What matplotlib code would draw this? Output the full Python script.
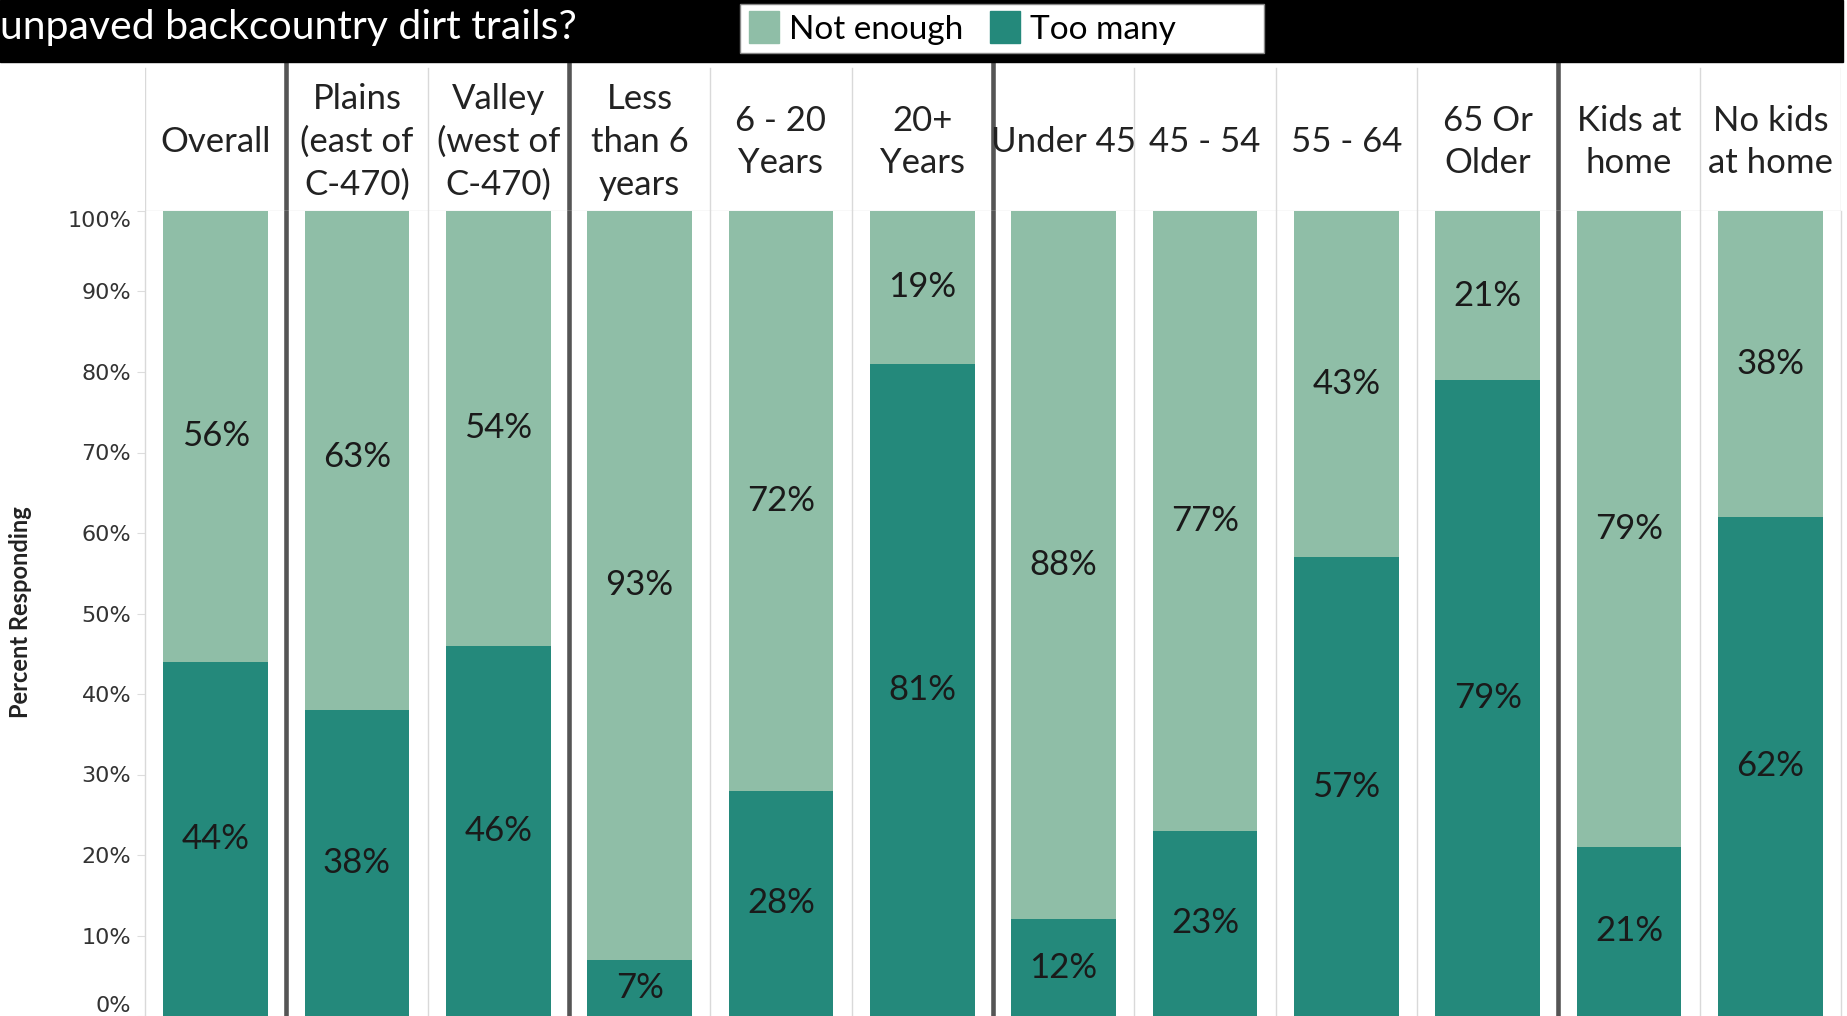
import matplotlib
matplotlib.use("Agg")
import matplotlib.pyplot as plt
from matplotlib.patches import Rectangle, Patch

# Data
categories = ["Overall", "Plains\n(east of\nC-470)", "Valley\n(west of\nC-470)",
              "Less\nthan 6\nyears", "6 - 20\nYears", "20+\nYears",
              "Under 45", "45 - 54", "55 - 64", "65 Or\nOlder",
              "Kids at\nhome", "No kids\nat home"]
too_many = [44, 38, 46, 7, 28, 81, 12, 23, 57, 79, 21, 62]
not_enough = [56, 63, 54, 93, 72, 19, 88, 77, 43, 21, 79, 38]
group_breaks = [0.5, 2.5, 5.5, 9.5]
yticks = [0, 10, 20, 30, 40, 50, 60, 70, 80, 90, 100]

LIGHT = "#8fbea7"
DARK = "#24897b"
FONT = "Lato"

W, H = 1847, 1016
fig = plt.figure(figsize=(W / 100, H / 100), dpi=100)
plt.rcParams["font.family"] = [FONT, "DejaVu Sans"]

left_px, right_px = 145, 1841
top_px = 211
ax = fig.add_axes([left_px / W, 0, (right_px - left_px) / W, (H - top_px) / H])
x = list(range(len(categories)))
ax.bar(x, too_many, width=0.74, color=DARK)
ax.bar(x, not_enough, width=0.74, bottom=too_many, color=LIGHT)
ax.set_xlim(-0.5, len(categories) - 0.5)
ax.set_ylim(0.6, 100)

# segment labels
for i in x:
    ax.text(i, too_many[i] / 2, f"{too_many[i]}%", ha="center", va="center",
            fontsize=25, color="#1a1a1a")
    ax.text(i, too_many[i] + not_enough[i] / 2, f"{not_enough[i]}%", ha="center",
            va="center", fontsize=25, color="#1a1a1a")

ax.set_xticks([])
ax.set_yticks(yticks)
ax.set_yticklabels([f"{t}%" for t in yticks], fontsize=16, color="#333333",
                   family="DejaVu Sans")
ax.tick_params(axis="y", length=6, color="#dddddd", pad=4)
labels = ax.get_yticklabels()
labels[0].set_va("bottom")
labels[-1].set_va("top")
for s in ax.spines.values():
    s.set_visible(False)

# column separators
for b in range(len(categories) + 1):
    ax.axvline(b - 0.5, color="#d9d9d9", lw=1, clip_on=False)
for b in group_breaks:
    ax.axvline(b, color="#555555", lw=3.3, zorder=5)

# header row
hax = fig.add_axes([left_px / W, (H - top_px) / H, (right_px - left_px) / W, (top_px - 61) / H])
hax.set_xlim(-0.5, len(categories) - 0.5)
hax.set_ylim(0, 1)
hax.axis("off")
for i, c in enumerate(categories):
    hax.text(i, 0.46, c, ha="center", va="center", fontsize=25, color="#222222",
             linespacing=1.42)
for b in range(len(categories) + 1):
    hax.plot([b - 0.5, b - 0.5], [0, (top_px - 68) / (top_px - 61)], color="#d9d9d9", lw=1)
for b in group_breaks:
    hax.plot([b, b], [0, 1], color="#555555", lw=3.3)
hax.plot([-0.5, len(categories) - 0.5], [0, 0], color="#e0e0e0", lw=1)

# black title bar
fig.patches.append(Rectangle((0, (H - 62) / H), 1843 / W, 62 / H, transform=fig.transFigure,
                             color="black", zorder=0))
fig.text(0, (H - 27) / H, "unpaved backcountry dirt trails?", color="white", fontsize=29.5,
         ha="left", va="center")

# legend
fig.patches.append(Rectangle((740 / W, (H - 53) / H), 524 / W, 49 / H, transform=fig.transFigure,
                             facecolor="white", edgecolor="#888888", lw=1, zorder=1))
handles = [Patch(color=LIGHT, label="Not enough"), Patch(color=DARK, label="Too many")]
fig.legend(handles=handles, loc="center left", bbox_to_anchor=(732 / W, (H - 28) / H),
           ncol=2, frameon=False, fontsize=24, handlelength=0.9, handleheight=1.1,
           handletextpad=0.3, columnspacing=0.8, borderpad=0)

fig.text(21 / W, (H - 612) / H, "Percent Responding", rotation=90, ha="center", va="center",
         fontsize=17, fontweight="bold", color="#222222")

fig.savefig("out.png", dpi=100)
